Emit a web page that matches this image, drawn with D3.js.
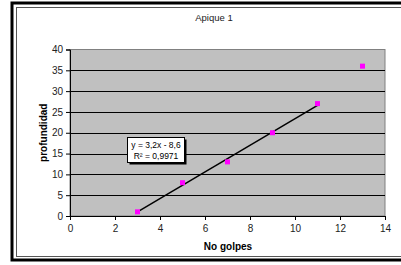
<!DOCTYPE html>
<html lang="es">
<head>
<meta charset="UTF-8">
<title>Apique 1</title>
<style>
  body { margin: 0; background: #fff; }
  svg { display: block; font-family: "Liberation Sans", Arial, sans-serif; }
</style>
</head>
<body>
<svg id="chart" width="401" height="265"></svg>
<script src="https://d3js.org/d3.v7.min.js"></script>
<script>
// data
const golpes = [3, 5, 7, 9, 11, 13];
const profundidad = [1, 8, 13, 20, 27, 36];
const xTicks = [0, 2, 4, 6, 8, 10, 12, 14];
const yTicks = [0, 5, 10, 15, 20, 25, 30, 35, 40];
// linear trendline (fitted on the first five points)
const trendRange = [3, 11];
const trendSlope = 3.2, trendIntercept = -8.6;
const trendLabel = ["y = 3,2x - 8,6", "R² = 0,9971"];

const svg = d3.select('#chart');

// outer frames
svg.append('rect').attr('x', 12).attr('y', 3).attr('width', 400).attr('height', 257)
  .attr('fill', '#fff').attr('stroke', '#000').attr('stroke-width', 3);
svg.append('rect').attr('x', 16.5).attr('y', 7.5).attr('width', 400).attr('height', 249)
  .attr('fill', 'none').attr('stroke', '#555').attr('stroke-width', 1);

const x = d3.scaleLinear().domain([0, 14]).range([70, 385]);
const y = d3.scaleLinear().domain([0, 40]).range([216, 49.5]);

// plot area
svg.append('rect')
  .attr('x', x(0)).attr('y', y(40))
  .attr('width', x(14) - x(0)).attr('height', y(0) - y(40))
  .attr('fill', '#c0c0c0').attr('stroke', '#808080').attr('stroke-width', 1);

// gridlines
svg.append('g').selectAll('line')
  .data(yTicks.filter(d => d > 0 && d < 40))
  .join('line')
  .attr('x1', x(0)).attr('x2', x(14))
  .attr('y1', d => Math.round(y(d)) + 0.5).attr('y2', d => Math.round(y(d)) + 0.5)
  .attr('stroke', '#000').attr('stroke-width', 1);

// axes
const yAxis = svg.append('g')
  .attr('transform', `translate(${x(0)},0)`)
  .call(d3.axisLeft(y).tickValues(yTicks).tickSize(4).tickPadding(3));
const xAxis = svg.append('g')
  .attr('transform', `translate(0,${y(0)})`)
  .call(d3.axisBottom(x).tickValues(xTicks).tickSize(4).tickPadding(5));
[xAxis, yAxis].forEach(a => {
  a.select('.domain').attr('stroke', '#000');
  a.selectAll('.tick line').attr('stroke', '#000');
  a.selectAll('text').attr('font-size', 10).attr('fill', '#222')
    .attr('font-family', '"Liberation Sans", Arial, sans-serif');
});

// trendline
svg.append('line')
  .attr('x1', x(trendRange[0])).attr('y1', y(trendSlope * trendRange[0] + trendIntercept))
  .attr('x2', x(trendRange[1])).attr('y2', y(trendSlope * trendRange[1] + trendIntercept))
  .attr('stroke', '#000').attr('stroke-width', 1.5);

// points
svg.append('g').selectAll('rect')
  .data(golpes.map((g, i) => [g, profundidad[i]]))
  .join('rect')
  .attr('x', d => x(d[0]) - 2.5).attr('y', d => y(d[1]) - 2.5)
  .attr('width', 5).attr('height', 5)
  .attr('fill', '#ff00ff');

// trendline label box
const box = svg.append('g').attr('transform', 'translate(127.5,137.5)');
box.append('rect').attr('x', 2).attr('y', 2).attr('width', 57).attr('height', 25).attr('fill', '#000');
box.append('rect').attr('width', 57).attr('height', 25)
  .attr('fill', '#fff').attr('stroke', '#000').attr('stroke-width', 1);
box.selectAll('text').data(trendLabel).join('text')
  .attr('x', 28.5).attr('y', (d, i) => 10.5 + i * 11)
  .attr('text-anchor', 'middle')
  .attr('font-size', 8.5).attr('fill', '#000')
  .text(d => d);

// titles
svg.append('text').attr('x', 214).attr('y', 21)
  .attr('text-anchor', 'middle').attr('font-size', 9.5).attr('fill', '#222')
  .text('Apique 1');
svg.append('text').attr('x', 228).attr('y', 250)
  .attr('text-anchor', 'middle').attr('font-size', 10).attr('font-weight', 'bold')
  .text('No golpes');
svg.append('text')
  .attr('transform', `translate(46.5,${(y(0) + y(40)) / 2}) rotate(-90)`)
  .attr('text-anchor', 'middle').attr('font-size', 10).attr('font-weight', 'bold')
  .text('profundidad');
</script>
</body>
</html>
